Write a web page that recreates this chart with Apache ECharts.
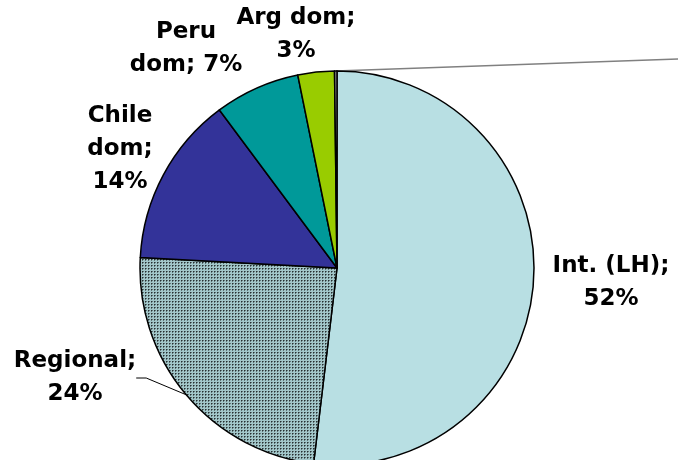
<!DOCTYPE html>
<html>
<head>
<meta charset="UTF-8">
<title>pie</title>
<script src="https://cdn.jsdelivr.net/npm/echarts@6/dist/echarts.min.js"></script>
<style>
  html, body { margin: 0; padding: 0; background: #fff; }
  #main { width: 678px; height: 460px; }
</style>
</head>
<body>
<div id="main"></div>
<script>
// data
var names = ['Int. (LH)', 'Regional', 'Chile dom', 'Peru dom', 'Arg dom', 'Other'];
var values = [52, 24, 14, 7, 3, 0.2];
var labelText = ['Int. (LH);\n52%', 'Regional;\n24%', 'Chile\ndom;\n14%', 'Peru\ndom; 7%', 'Arg dom;\n3%', ''];
var colors = ['#b8dfe3', null, '#333399', '#009999', '#99cc00', '#999999'];

// dotted fill for the Regional slice
var tile = document.createElement('canvas');
tile.width = 3; tile.height = 3;
var g = tile.getContext('2d');
g.fillStyle = '#a2c6c9';
g.fillRect(0, 0, 3, 3);
g.fillStyle = '#5f7375';
g.fillRect(1, 2, 1, 1);
g.fillRect(2, 1, 1, 1);
g.fillStyle = '#263032';
g.fillRect(1, 1, 1, 1);
colors[1] = { image: tile, repeat: 'repeat' };

// where each label sits
var labelPos = [[611, 283], [75, 378], [120, 149], [186, 49], [296, 35], [720, 58]];

var data = names.map(function (n, i) {
  return {
    name: n,
    value: values[i],
    itemStyle: { color: colors[i] },
    labelLine: {
      show: i === 1 || i === 5,
      lineStyle: i === 5 ? { color: '#808080', width: 1.5 } : { color: '#000', width: 1 }
    }
  };
});

var myChart = echarts.init(document.getElementById('main'));
myChart.setOption({
  animation: false,
  series: [{
    type: 'pie',
    center: [337, 268],
    radius: 197,
    startAngle: 90,
    clockwise: true,
    data: data,
    itemStyle: { borderColor: '#000', borderWidth: 1.5 },
    label: {
      show: true,
      formatter: function (p) { return labelText[p.dataIndex]; },
      fontFamily: 'DejaVu Sans',
      fontWeight: 'bold',
      fontSize: 23,
      lineHeight: 33,
      color: '#000',
      align: 'center',
      overflow: 'none'
    },
    labelLine: {
      show: true,
      length: 10,
      length2: 10
    },
    labelLayout: function (p) {
      var pos = labelPos[p.dataIndex];
      return { x: pos[0], y: pos[1], align: 'center', verticalAlign: 'middle' };
    }
  }]
});
</script>
</body>
</html>
